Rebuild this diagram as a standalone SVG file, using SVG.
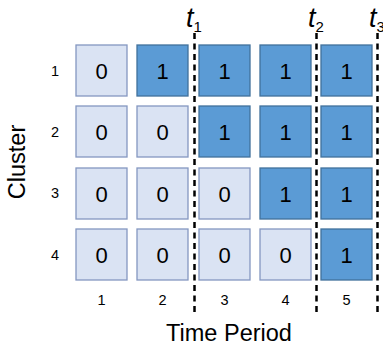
<svg xmlns="http://www.w3.org/2000/svg" width="383" height="345" viewBox="0 0 383 345">
  <style>
    .cell { stroke-width: 1.3; }
    .off { fill: #dae3f3; stroke: #8497c0; }
    .on { fill: #5b9bd5; stroke: #41719c; }
    .val { font-family: "Liberation Sans", Arial, sans-serif; font-size: 22px; fill: #000; text-anchor: middle; }
    .tick { font-family: "Liberation Sans", Arial, sans-serif; font-size: 14.5px; fill: #000; text-anchor: middle; }
    .axis { font-family: "Liberation Sans", Arial, sans-serif; font-size: 23.5px; fill: #000; text-anchor: middle; }
    .tlab { font-family: "Liberation Sans", Arial, sans-serif; font-size: 27px; font-style: italic; fill: #000; }
    .tsub { font-family: "Liberation Sans", Arial, sans-serif; font-size: 15px; font-style: normal; fill: #000; }
    .cut { stroke: #000; stroke-width: 2.5; stroke-dasharray: 6 4.5; fill: none; }
  </style>
  <rect width="383" height="345" fill="#fff"/>

  <!-- cluster row labels -->
  <g id="row-labels">
    <text class="tick" x="55" y="76">1</text>
    <text class="tick" x="55" y="137">2</text>
    <text class="tick" x="55" y="198">3</text>
    <text class="tick" x="55" y="260">4</text>
  </g>

  <!-- row 1 -->
  <g id="r1c1"><rect class="cell off" x="76" y="45" width="51" height="51"/><text class="val" x="101.5" y="79">0</text></g>
  <g id="r1c2"><rect class="cell on" x="137" y="45" width="51" height="51"/><text class="val" x="162.5" y="79">1</text></g>
  <g id="r1c3"><rect class="cell on" x="199" y="45" width="51" height="51"/><text class="val" x="224.5" y="79">1</text></g>
  <g id="r1c4"><rect class="cell on" x="260" y="45" width="51" height="51"/><text class="val" x="285.5" y="79">1</text></g>
  <g id="r1c5"><rect class="cell on" x="321" y="45" width="51" height="51"/><text class="val" x="346.5" y="79">1</text></g>

  <!-- row 2 -->
  <g id="r2c1"><rect class="cell off" x="76" y="106" width="51" height="51"/><text class="val" x="101.5" y="140">0</text></g>
  <g id="r2c2"><rect class="cell off" x="137" y="106" width="51" height="51"/><text class="val" x="162.5" y="140">0</text></g>
  <g id="r2c3"><rect class="cell on" x="199" y="106" width="51" height="51"/><text class="val" x="224.5" y="140">1</text></g>
  <g id="r2c4"><rect class="cell on" x="260" y="106" width="51" height="51"/><text class="val" x="285.5" y="140">1</text></g>
  <g id="r2c5"><rect class="cell on" x="321" y="106" width="51" height="51"/><text class="val" x="346.5" y="140">1</text></g>

  <!-- row 3 -->
  <g id="r3c1"><rect class="cell off" x="76" y="168" width="51" height="51"/><text class="val" x="101.5" y="202">0</text></g>
  <g id="r3c2"><rect class="cell off" x="137" y="168" width="51" height="51"/><text class="val" x="162.5" y="202">0</text></g>
  <g id="r3c3"><rect class="cell off" x="199" y="168" width="51" height="51"/><text class="val" x="224.5" y="202">0</text></g>
  <g id="r3c4"><rect class="cell on" x="260" y="168" width="51" height="51"/><text class="val" x="285.5" y="202">1</text></g>
  <g id="r3c5"><rect class="cell on" x="321" y="168" width="51" height="51"/><text class="val" x="346.5" y="202">1</text></g>

  <!-- row 4 -->
  <g id="r4c1"><rect class="cell off" x="76" y="229" width="51" height="51"/><text class="val" x="101.5" y="263">0</text></g>
  <g id="r4c2"><rect class="cell off" x="137" y="229" width="51" height="51"/><text class="val" x="162.5" y="263">0</text></g>
  <g id="r4c3"><rect class="cell off" x="199" y="229" width="51" height="51"/><text class="val" x="224.5" y="263">0</text></g>
  <g id="r4c4"><rect class="cell off" x="260" y="229" width="51" height="51"/><text class="val" x="285.5" y="263">0</text></g>
  <g id="r4c5"><rect class="cell on" x="321" y="229" width="51" height="51"/><text class="val" x="346.5" y="263">1</text></g>

  <!-- time period column labels -->
  <g id="col-labels">
    <text class="tick" x="101.5" y="305">1</text>
    <text class="tick" x="162.5" y="305">2</text>
    <text class="tick" x="224.5" y="305">3</text>
    <text class="tick" x="285.5" y="305">4</text>
    <text class="tick" x="346.5" y="305">5</text>
  </g>

  <!-- dashed cut lines -->
  <g id="connectors">
    <line class="cut" x1="194.5" y1="33" x2="194.5" y2="312"/>
    <line class="cut" x1="316.5" y1="33" x2="316.5" y2="312"/>
    <line class="cut" x1="377.5" y1="33" x2="377.5" y2="312"/>
  </g>

  <!-- cut labels -->
  <g id="t1"><text class="tlab" x="186" y="27">t<tspan class="tsub" dy="5">1</tspan></text></g>
  <g id="t2"><text class="tlab" x="308" y="27">t<tspan class="tsub" dy="5">2</tspan></text></g>
  <g id="t3"><text class="tlab" x="369" y="27">t<tspan class="tsub" dy="5">3</tspan></text></g>

  <!-- axis titles -->
  <g id="x-title"><text class="axis" x="229" y="341">Time Period</text></g>
  <g id="y-title"><text class="axis" transform="translate(25 162) rotate(-90)">Cluster</text></g>
</svg>
